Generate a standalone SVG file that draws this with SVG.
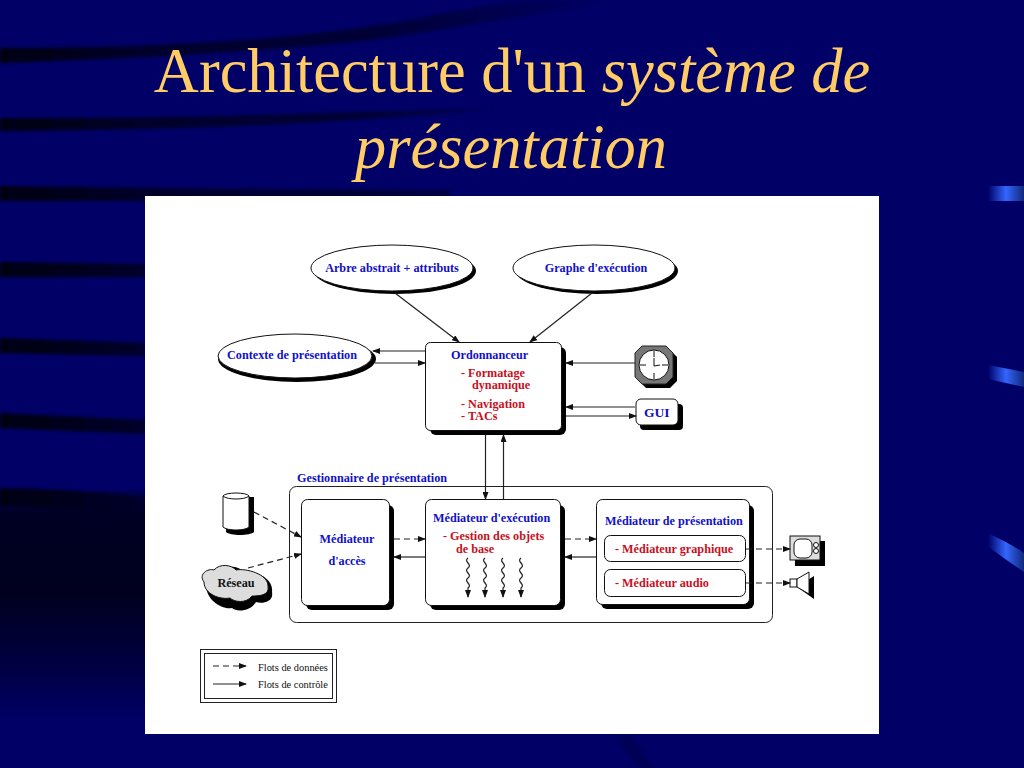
<svg xmlns="http://www.w3.org/2000/svg" width="1024" height="768" viewBox="0 0 1024 768">
<style>
.d{font-family:"Liberation Serif",serif;font-size:12.2px}
.b{fill:#1010c8;font-weight:bold}
.r{fill:#c80f1e;font-weight:bold}
.t{font-family:"Liberation Serif",serif;font-size:62.4px;fill:#ffcc66}
.s{fill:#000;stroke:none}
.w{fill:#fff;stroke:#111;stroke-width:1}
.c{fill:none;stroke:#222;stroke-width:1.2}
.da{stroke-dasharray:6 4}
</style>
<defs>
<marker id="a" markerWidth="8" markerHeight="6" refX="7" refY="3" orient="auto" markerUnits="userSpaceOnUse"><path d="M0 0L8 3L0 6Z" fill="#111"/></marker>
<linearGradient id="dark" x1="0" y1="0" x2="0" y2="1"><stop offset="0" stop-color="#000058"/><stop offset=".1" stop-color="#000024"/><stop offset=".45" stop-color="#00001e"/><stop offset=".75" stop-color="#000040"/><stop offset="1" stop-color="#000066"/></linearGradient>
<linearGradient id="bandg" gradientUnits="userSpaceOnUse" x1="0" y1="0" x2="620" y2="0"><stop offset="0" stop-color="#000010"/><stop offset=".23" stop-color="#00002a"/><stop offset=".6" stop-color="#000036"/><stop offset="1" stop-color="#000066"/></linearGradient>
<linearGradient id="bl" x1="0" y1="0" x2="1" y2="0"><stop offset="0" stop-color="#000066"/><stop offset=".5" stop-color="#3366ff"/><stop offset="1" stop-color="#10287a"/></linearGradient>
<filter id="soft" x="-5%" y="-20%" width="110%" height="140%"><feGaussianBlur stdDeviation="1.5"/></filter>
</defs>
<rect id="background" width="1024" height="768" fill="#000066"/>
<rect id="left-dark" x="0" y="490" width="145" height="230" fill="url(#dark)"/>
<g id="bands" fill="url(#bandg)" filter="url(#soft)">
<path d="M0 48V63C150 58 300 50 400 36C480 24 550 12 620 0H530C480 6 440 14 400 22C280 42 140 48 0 48Z"/>
<path d="M0 118V131C160 130 320 126 500 108C360 112 180 119 0 118Z"/>
<path d="M0 186V201H450V190C300 190 140 188 0 186Z"/>
<path d="M0 262V277H145V264Z"/>
<path d="M0 338V353L145 356V343Z"/>
<path d="M0 413V428L145 434V420Z"/>
<path d="M0 488V505L145 514V497C100 492 50 489 0 488Z"/>
</g>
<path id="bottom-band" d="M616 736H632L654 768H636Z" fill="#000056" filter="url(#soft)"/>
<g id="accents" fill="url(#bl)">
<rect x="988" y="186" width="36" height="15"/>
<path d="M988 365L1024 372V387L988 379Z"/>
<path d="M988 533C1002 540 1014 546 1024 553V572C1012 564 1000 555 988 547Z"/>
</g>
<text id="title" class="t" text-anchor="middle"><tspan x="512" y="92">Architecture d'un <tspan font-style="italic">système de</tspan></tspan><tspan x="511" y="168" font-style="italic">présentation</tspan></text>
<rect id="panel" x="145" y="196" width="734" height="538" fill="#fff"/>
<g id="gestionnaire"><rect x="289.500" y="486.500" width="483" height="136" rx="7" fill="#fff" stroke="#222"/><text class="d b" x="297" y="482">Gestionnaire de présentation</text></g>
<g id="arbre"><ellipse class="s" cx="395" cy="271" rx="81" ry="23"/><ellipse class="w" cx="392" cy="268" rx="81" ry="23"/><text class="d b" x="392" y="272" text-anchor="middle">Arbre abstrait + attributs</text></g>
<g id="graphe"><ellipse class="s" cx="597" cy="271" rx="81" ry="23"/><ellipse class="w" cx="594" cy="268" rx="81" ry="23"/><text class="d b" x="596" y="272" text-anchor="middle">Graphe d'exécution</text></g>
<g id="contexte"><ellipse class="s" cx="297" cy="359" rx="79" ry="23"/><ellipse class="w" cx="295" cy="356" rx="77" ry="22"/><text class="d b" x="292" y="359" text-anchor="middle">Contexte de présentation</text></g>
<g id="ordonnanceur"><rect class="s" x="430" y="347" width="136" height="88" rx="6"/><rect class="w" x="425.500" y="342.500" width="136" height="88" rx="5"/><text class="d b" x="451" y="359">Ordonnanceur</text><text class="d r" x="461" y="377">- Formatage</text><text class="d r" x="472" y="389">dynamique</text><text class="d r" x="461" y="408">- Navigation</text><text class="d r" x="461" y="420">- TACs</text></g>
<g id="horloge"><path class="s" d="M646 350H670L677 357V381L670 388H646L639 381V357Z"/><path d="M642 346H666L673 353V377L666 384H642L635 377V353Z" fill="#777" stroke="#222"/><circle cx="654" cy="365" r="15" fill="#fff" stroke="#111"/><path d="M654 351V357M654 373V379M640 365H646M662 365H668M654 358V366L660 365" fill="none" stroke="#111"/></g>
<g id="gui"><rect class="s" x="640" y="404" width="43" height="26" rx="4"/><rect class="w" x="636" y="399" width="42" height="26" rx="5"/><text class="d b" x="644" y="417" style="font-size:13.500px">GUI</text></g>
<g id="base"><path class="s" d="M226 497H254V532C250 536 230 536 226 532Z"/><path d="M223 496C225 492 247 492 249 496V527C245 531 227 531 223 527Z" fill="#fff" stroke="#111"/><path d="M223 496C227 500 245 500 249 496" fill="none" stroke="#111"/></g>
<g id="reseau"><path class="s" d="M206 585C200 576 212 570 218 572C224 564 240 566 244 572C254 570 274 578 272 592C274 602 262 604 256 602C250 612 236 612 232 608C222 610 206 600 206 585Z"/><path d="M204 582C198 574 208 568 214 570C220 563 232 565 236 570C246 568 268 574 268 586C270 596 258 596 252 596C246 604 234 602 230 598C220 600 204 594 204 582Z" fill="#ddd" stroke="#111"/><text class="d" x="236" y="587" text-anchor="middle" font-weight="bold" fill="#111">Réseau</text></g>
<g id="acces"><rect class="s" x="306" y="505" width="88" height="105" rx="6"/><rect class="w" x="301.500" y="499.500" width="88" height="106" rx="6"/><text class="d b" x="347" y="543" text-anchor="middle">Médiateur</text><text class="d b" x="347" y="565" text-anchor="middle">d'accès</text></g>
<g id="execution"><rect class="s" x="430" y="505" width="135" height="105" rx="6"/><rect class="w" x="425.500" y="499.500" width="135" height="106" rx="6"/><text class="d b" x="433" y="522">Médiateur d'exécution</text><text class="d r" x="443" y="540">- Gestion des objets</text><text class="d r" x="456" y="553">de base</text></g>
<g id="presentation"><rect class="s" x="601" y="505" width="153" height="104" rx="6"/><rect class="w" x="596.500" y="499.500" width="153" height="105" rx="6"/><text class="d b" x="605" y="525">Médiateur de présentation</text></g>
<g id="graphique"><rect class="w" x="604.500" y="535.500" width="141" height="26" rx="6"/><text class="d r" x="615" y="553">- Médiateur graphique</text></g>
<g id="audio"><rect class="w" x="604.500" y="569.500" width="141" height="27" rx="6"/><text class="d r" x="615" y="587">- Médiateur audio</text></g>
<g id="ecran"><rect class="s" x="795" y="541" width="30" height="25"/><rect x="790" y="536" width="30" height="24" fill="#ddd" stroke="#111"/><rect x="794" y="539" width="18" height="19" rx="6" fill="#fff" stroke="#111"/><circle cx="816" cy="545" r="2.500" fill="#fff" stroke="#111"/><circle cx="816" cy="551" r="2.500" fill="#fff" stroke="#111"/></g>
<g id="hautparleur"><path class="s" d="M797 587L814 576V599Z"/><rect x="790" y="579" width="7" height="8" fill="#fff" stroke="#111"/><path d="M797 579L809 572V594L797 587Z" fill="#fff" stroke="#111"/></g>
<g id="legende"><rect x="200.500" y="649.500" width="136" height="53" fill="#fff" stroke="#222"/><rect x="204.500" y="653.500" width="128" height="45" fill="none" stroke="#222"/><text x="258" y="671" font-family="Liberation Serif,serif" font-size="10.400" fill="#111">Flots de données</text><text x="258" y="688" font-family="Liberation Serif,serif" font-size="10.400" fill="#111">Flots de contrôle</text></g>
<g id="connectors">
<path class="c" d="M395 293L459 342" marker-end="url(#a)"/>
<path class="c" d="M592 293L530 342" marker-end="url(#a)"/>
<path class="c" d="M425 351H373" marker-end="url(#a)"/>
<path class="c" d="M375 363H425" marker-end="url(#a)"/>
<path class="c" d="M635 363H566" marker-end="url(#a)"/>
<path class="c" d="M635 407H566" marker-end="url(#a)"/>
<path class="c" d="M566 416H636" marker-end="url(#a)"/>
<path class="c" d="M485.500 435V499" marker-end="url(#a)"/>
<path class="c" d="M503.500 499V435" marker-end="url(#a)"/>
<path class="c da" d="M254 512L301 537" marker-end="url(#a)"/>
<path class="c da" d="M248 568L301 554" marker-end="url(#a)"/>
<path class="c da" d="M394 539H425" marker-end="url(#a)"/>
<path class="c" d="M425 557H394" marker-end="url(#a)"/>
<path class="c da" d="M565 539H596" marker-end="url(#a)"/>
<path class="c" d="M596 557H565" marker-end="url(#a)"/>
<path class="c da" d="M746 549H790" marker-end="url(#a)"/>
<path class="c da" d="M746 583H790" marker-end="url(#a)"/>
<path class="c" d="M468 558c-5 4 5 6 0 10s5 6 0 10s5 6 0 10v9" marker-end="url(#a)"/>
<path class="c" d="M485 558c-5 4 5 6 0 10s5 6 0 10s5 6 0 10v9" marker-end="url(#a)"/>
<path class="c" d="M503 558c-5 4 5 6 0 10s5 6 0 10s5 6 0 10v9" marker-end="url(#a)"/>
<path class="c" d="M521 558c-5 4 5 6 0 10s5 6 0 10s5 6 0 10v9" marker-end="url(#a)"/>
<path class="c da" d="M213 666H246" marker-end="url(#a)"/>
<path class="c" d="M213 684H246" marker-end="url(#a)"/>
</g>
</svg>
